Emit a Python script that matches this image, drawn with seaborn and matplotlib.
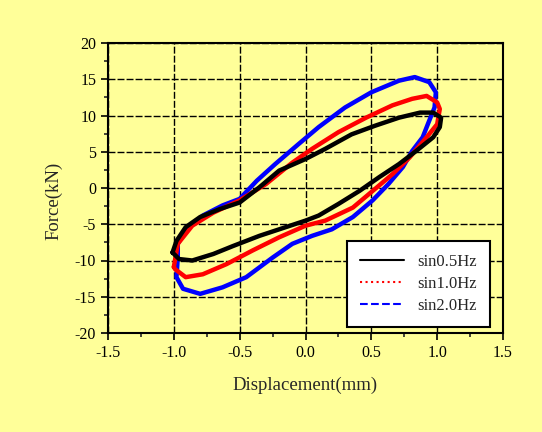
import numpy as np
import pandas as pd
import matplotlib
matplotlib.use("Agg")
import matplotlib.pyplot as plt
from matplotlib.lines import Line2D
import seaborn as sns

# hysteresis loops: (displacement mm, force kN), traced round the loop
disp_05 = [-1.01, -0.98, -0.91, -0.80, -0.65, -0.50, -0.35, -0.20, 0.00, 0.15, 0.35, 0.53, 0.71, 0.87, 0.97, 1.03,
           1.02, 0.97, 0.84, 0.71, 0.56, 0.41, 0.25, 0.10, 0.00, -0.15, -0.35, -0.55, -0.70, -0.86, -0.96, -1.01]
force_05 = [-8.9, -7.3, -5.4, -4.0, -2.9, -2.0, 0.1, 2.4, 4.0, 5.4, 7.4, 8.6, 9.7, 10.4, 10.4, 9.7,
            8.4, 7.0, 5.1, 3.3, 1.5, -0.4, -2.2, -3.8, -4.5, -5.4, -6.6, -8.0, -9.1, -10.0, -9.8, -8.9]

disp_10 = [-1.00, -0.97, -0.86, -0.70, -0.50, -0.30, -0.10, 0.05, 0.25, 0.46, 0.66, 0.81, 0.92, 1.00, 1.02,
           1.00, 0.92, 0.79, 0.66, 0.53, 0.36, 0.15, 0.00, -0.20, -0.40, -0.60, -0.78, -0.91, -0.99, -1.00]
force_10 = [-10.9, -7.7, -5.2, -3.4, -1.7, 0.55, 3.5, 5.4, 7.7, 9.7, 11.4, 12.3, 12.7, 11.8, 10.9,
            8.8, 7.0, 4.2, 1.9, -0.1, -2.7, -4.5, -5.2, -6.8, -8.6, -10.5, -11.9, -12.3, -11.2, -10.9]

disp_20 = [-0.97, -0.91, -0.78, -0.63, -0.50, -0.37, -0.23, -0.05, 0.10, 0.30, 0.50, 0.71, 0.83, 0.94, 0.99, 0.98,
           0.94, 0.89, 0.81, 0.74, 0.63, 0.51, 0.36, 0.20, 0.05, -0.10, -0.25, -0.45, -0.63, -0.80, -0.93, -0.98, -0.97, -0.97]
force_20 = [-7.7, -5.9, -3.8, -2.4, -1.5, 1.0, 3.3, 6.1, 8.4, 11.1, 13.2, 14.8, 15.3, 14.6, 13.2, 11.1,
            9.3, 7.0, 5.1, 2.9, 0.55, -1.7, -4.0, -5.7, -6.6, -7.7, -9.6, -12.3, -13.7, -14.6, -13.9, -12.3, -9.6, -7.7]

labels = ["sin0.5Hz", "sin1.0Hz", "sin2.0Hz"]
colors = ["black", "red", "blue"]
styles = ["-", ":", "--"]

x_ticks = [-1.5, -1.0, -0.5, 0.0, 0.5, 1.0, 1.5]
y_ticks = [-20, -15, -10, -5, 0, 5, 10, 15, 20]

bg = "#FFFF99"
sns.set_style("ticks")
plt.rcParams["font.family"] = ["Liberation Serif", "DejaVu Serif"]

fig = plt.figure(figsize=(5.42, 4.32), dpi=100, facecolor=bg)
ax = fig.add_axes([108 / 542, 1 - 333 / 432, 395 / 542, 290 / 432])
ax.set_facecolor(bg)

# blue and red first, black on top like the reference
for xs, ys, c in zip([disp_20, disp_10, disp_05], [force_20, force_10, force_05], ["blue", "red", "black"]):
    df = pd.DataFrame({"d": xs, "f": ys})
    sns.lineplot(data=df, x="d", y="f", sort=False, estimator=None, color=c, lw=3.2, ax=ax)

ax.set_xlim(-1.5, 1.5)
ax.set_ylim(-20, 20)
ax.set_xticks(x_ticks)
ax.set_xticklabels([f"{v:.1f}" for v in x_ticks])
ax.set_yticks(y_ticks)
ax.set_yticklabels([str(v) for v in y_ticks])
ax.set_xticks(np.arange(-1.25, 1.5, 0.5), minor=True)
ax.set_yticks(np.arange(-17.5, 20, 5), minor=True)
ax.tick_params(which="major", direction="out", length=5, width=1.2, labelsize=11.5, colors="black")
ax.tick_params(which="minor", direction="out", length=3, width=1.2)
ax.grid(True, which="major", color="black", ls=(0, (5, 1.5)), lw=1.0)
for s in ax.spines.values():
    s.set_visible(True)
    s.set_linewidth(1.5)
    s.set_color("black")

ax.set_xlabel("Displacement(mm)", fontsize=13.5)
ax.xaxis.set_label_coords(0.5, -0.15)
ax.set_ylabel("Force(kN)", fontsize=13.5)
ax.yaxis.set_label_coords(-0.115, 0.455)

handles = [Line2D([], [], color=c, ls=s, lw=1.5) for c, s in zip(colors, styles)]
leg = ax.legend(handles, labels, loc="lower right", bbox_to_anchor=(0.967, 0.02),
                borderaxespad=0, fancybox=False, framealpha=1, edgecolor="black", fontsize=12,
                handlelength=2.6, borderpad=0.8, labelspacing=0.35)
leg.get_frame().set_linewidth(1.5)

fig.savefig("out.png", dpi=100, facecolor=bg)
